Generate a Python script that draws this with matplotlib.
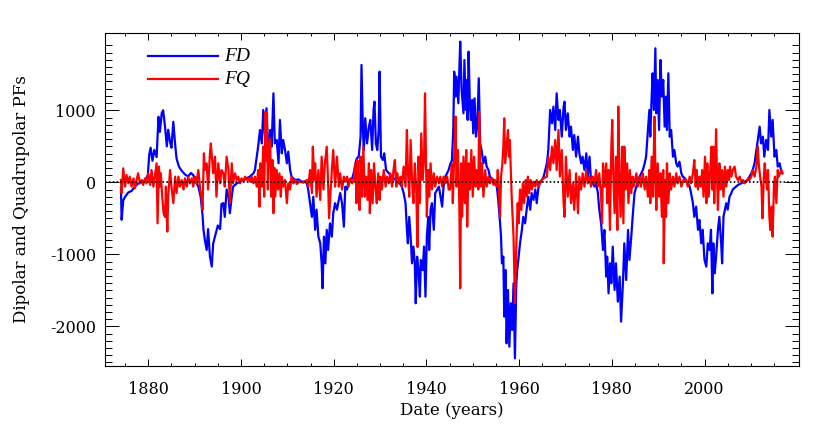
import numpy as np
import matplotlib
matplotlib.use('Agg')
import matplotlib.pyplot as plt
from matplotlib.ticker import FixedLocator

plt.rc('font', family='DejaVu Serif', size=11.5)
plt.rc('axes', unicode_minus=False, linewidth=0.8)

# dipolar polar field (blue)
fd_year = [1874.1, 1874.25, 1874.6, 1875.0, 1875.7, 1876.4, 1877.1, 1877.8, 1878.6, 1879.3,
           1879.9, 1880.2, 1880.5, 1880.9, 1881.3, 1881.8, 1882.2, 1882.5, 1882.9, 1883.2,
           1883.6, 1884.0, 1884.3, 1884.7, 1885.0, 1885.4, 1885.8, 1886.1, 1886.6, 1887.2,
           1887.9, 1888.6, 1889.2, 1889.7, 1890.2, 1890.8, 1891.3, 1891.7, 1891.9, 1892.2,
           1892.6, 1892.9, 1893.3, 1893.7, 1894.0, 1894.4, 1895.0, 1895.5, 1895.8,
           1896.2, 1896.5, 1896.9, 1897.3, 1897.6, 1898.0, 1898.3, 1899.1, 1899.8, 1900.5,
           1901.2, 1901.9, 1902.7, 1903.0, 1903.4, 1903.7, 1904.1, 1904.5, 1904.8, 1905.2,
           1905.5, 1905.9, 1906.3, 1906.6, 1907.0, 1907.3, 1907.7, 1908.1, 1908.4, 1908.8,
           1909.1, 1909.5, 1909.9, 1910.2, 1910.6, 1910.9, 1911.7, 1912.4, 1913.1, 1913.8,
           1914.2, 1914.5, 1914.9, 1915.3, 1915.6, 1916.0, 1916.3, 1916.7, 1917.1, 1917.4,
           1917.6, 1917.9, 1918.2, 1918.5, 1918.8, 1919.2, 1919.6, 1919.9, 1920.3,
           1920.7, 1921.1, 1921.4, 1921.8, 1922.2, 1922.5, 1922.9, 1923.2, 1924.0, 1924.3,
           1924.7, 1925.0, 1925.4, 1925.8, 1926.0, 1926.3, 1926.5, 1926.8, 1927.2, 1927.6,
           1927.9, 1928.3, 1928.6, 1928.8, 1929.1, 1929.4, 1929.7, 1929.9, 1930.2, 1930.6,
           1930.9, 1931.3, 1931.9, 1932.6, 1933.3, 1934.0, 1934.7, 1935.1, 1935.5, 1935.8,
           1936.0, 1936.3, 1936.6, 1936.9, 1937.2, 1937.5, 1937.7, 1938.0, 1938.3, 1938.6,
           1938.8, 1939.2, 1939.5, 1939.8, 1940.1, 1940.4, 1940.6, 1940.9, 1941.2, 1941.6,
           1941.9, 1942.7, 1943.4, 1943.7, 1944.1, 1944.8, 1945.2,
           1945.5, 1945.8, 1946.0, 1946.3, 1946.5, 1946.9, 1947.1, 1947.3, 1947.6, 1948.0,
           1948.2, 1948.5, 1948.7, 1948.9, 1949.1, 1949.4, 1949.6, 1949.9, 1950.1, 1950.4,
           1950.7, 1951.0, 1951.3, 1951.6, 1951.9, 1952.3, 1952.7, 1953.0, 1953.4, 1953.7,
           1954.5, 1955.2, 1955.5, 1955.9, 1956.1, 1956.3, 1956.6, 1956.8, 1957.1, 1957.3,
           1957.6, 1957.9, 1958.2, 1958.5, 1958.8, 1959.1, 1959.4, 1959.6, 1959.9, 1960.2,
           1960.6, 1960.9, 1961.3, 1961.7, 1962.0, 1962.4, 1962.7, 1963.1, 1963.5, 1963.8,
           1964.2, 1964.5, 1965.3, 1966.0, 1966.3, 1966.7, 1967.1, 1967.4, 1967.8, 1968.1,
           1968.5, 1968.8, 1969.2, 1969.6,
           1969.8, 1970.1, 1970.5, 1970.9, 1971.2, 1971.6, 1971.9, 1972.3, 1972.7, 1973.0,
           1973.4, 1973.7, 1974.1, 1974.5, 1974.8, 1975.2, 1975.5, 1975.9, 1976.3, 1976.6,
           1977.0, 1977.3, 1977.7, 1978.1, 1978.4, 1978.8, 1979.0, 1979.3, 1979.6, 1979.9,
           1980.2, 1980.6, 1980.9, 1981.3, 1981.7, 1982.0, 1982.4, 1982.7, 1983.1, 1983.5,
           1983.8, 1984.2, 1984.5, 1984.9, 1985.3, 1985.6, 1986.0, 1986.7, 1987.1, 1987.4,
           1987.8, 1988.1, 1988.3, 1988.6, 1988.8, 1989.1, 1989.4, 1989.6, 1989.9, 1990.2,
           1990.5, 1990.8, 1991.1, 1991.4, 1991.7, 1991.9, 1992.2, 1992.5, 1992.8, 1993.2,
           1993.5, 1993.9, 1994.2, 1994.6, 1995.0, 1995.3, 1995.7,
           1996.0, 1996.4, 1996.8, 1997.1, 1997.5, 1997.8, 1998.2, 1998.6, 1998.9, 1999.3,
           1999.6, 2000.0, 2000.4, 2000.7, 2001.1, 2001.4, 2001.7, 2001.9, 2002.2, 2002.5,
           2002.9, 2003.2, 2003.6, 2003.8, 2004.1, 2004.4, 2004.7, 2005.0, 2005.4, 2005.8,
           2006.1, 2006.8, 2007.2, 2007.9, 2008.6, 2009.4, 2009.7, 2010.1, 2010.4, 2010.8,
           2011.2, 2011.5, 2011.9, 2012.2, 2012.6, 2012.9, 2013.3, 2013.7, 2014.0, 2014.4,
           2014.7, 2015.1, 2015.5, 2015.8, 2016.2, 2016.5, 2016.8]
fd_val = [-80, -520, -250, -200, -140, -120, -60, -20, 0, 20,
          100, 380, 480, 300, 450, 350, 910, 700, 960, 1000,
          780, 500, 730, 560, 480, 840, 520, 330, 220, 160,
          110, 80, 130, 100, 20, -60, -200, -450, -650, -800,
          -940, -650, -1030, -1170, -850, -750, -600, -650, -300,
          -290, -480, -100, -200, -430, -200, -60, -15, 10, 30,
          55, 80, 125, 170, 355, 495, 727, 540, 1005, 634,
          1028, 356, 727, 495, 1236, 540, 588, 264, 866, 403,
          588, 449, 264, 426, 171, 79, 32, 40, 10, 10,
          -15, -100, -290, -480, -200, -660, -380, -755, -847, -1125,
          -1472, -755, -1125, -660, -940, -570, -755, -430, -290,
          -380, -245, -150, -290, -616, -60, -100, 30, 55, 125,
          264, 333, 356, 634, 1630, 727, 449, 889, 540, 773,
          866, 449, 1005, 1120, 540, 449, 727, 1537, 356, 310,
          403, 171, 125, 79, 32, 10, -60, -150, -290, -660,
          -847, -480, -755, -1125, -893, -1125, -1680, -1032, -1218, -1588,
          -1079, -1218, -893, -1588, -755, -480, -940, -380, -290, -660,
          -150, -60, -338, -60, 79, 171, 264,
          300, 727, 1537, 1190, 1468, 1097, 1560, 1954, 1282, 958,
          1699, 1005, 1421, 866, 1815, 1051, 866, 1144, 680, 1167,
          634, 820, 1445, 540, 449, 264, 356, 218, 171, 79,
          32, -60, -245, -570, -755, -1125, -1032, -1866, -1218, -2236,
          -1495, -2283, -1680, -2051, -1403, -2445, -1403, -1218, -1032, -847,
          -660, -480, -570, -338, -200, -380, -150, -245, -100, -290,
          -60, -15, 79, 264, 449, 1005, 820, 1051, 727, 1236,
          866, 1005, 634, 1051,
          1120, 727, 958, 634, 773, 449, 657, 356, 634, 403,
          264, 356, 171, 403, 79, 356, 32, -15, -60, -15,
          -150, -380, -570, -940, -662, -1310, -1032, -1542, -1125, -1403,
          -893, -1495, -1125, -1658, -1310, -1935, -1403, -847, -1357, -662,
          -1079, -755, -480, -150, -60, 32, 79, 171, 264, 356,
          727, 1005, 634, 1190, 1514, 1005, 1861, 958, 1421, 727,
          1699, 1190, 1421, 773, 1190, 727, 1514, 634, 727, 356,
          449, 264, 218, 287, 125, 79, 60,
          32, -15, -60, -150, -290, -480, -338, -660, -523, -847,
          -660, -1079, -1171, -847, -940, -660, -1542, -847, -1264, -1032,
          -660, -480, -847, -1125, -480, -380, -290, -380, -200, -150,
          -100, -60, -37, -15, 10, 32, 79, 125, 171, 264,
          449, 588, 773, 540, 634, 356, 588, 449, 1005, 634,
          866, 356, 449, 218, 264, 171, 125]

# quadrupolar polar field (red)
fq_year = [1874.1, 1874.25, 1874.6, 1875.0, 1875.3, 1875.7, 1876.0, 1876.4, 1876.8, 1877.1,
           1877.5, 1877.8, 1878.2, 1878.6, 1878.9, 1879.3, 1879.6, 1880.0, 1880.4, 1880.7,
           1881.1, 1881.4, 1881.8, 1882.0, 1882.3, 1882.5, 1882.7, 1883.0, 1883.3, 1883.6,
           1883.8, 1884.1, 1884.3, 1884.7, 1885.0, 1885.4, 1885.8, 1886.1, 1886.5, 1886.8,
           1887.2, 1887.6, 1887.9, 1888.3, 1888.6, 1889.0, 1889.4, 1889.7, 1890.1, 1890.4,
           1890.8, 1891.2, 1891.5, 1891.7, 1892.0, 1892.2, 1892.6, 1892.9, 1893.3, 1893.5,
           1894.0, 1894.4, 1894.7, 1895.1, 1895.5, 1895.8,
           1896.2, 1896.5, 1896.9, 1897.3, 1897.6, 1898.0, 1898.3, 1898.7, 1899.1, 1899.4,
           1899.8, 1900.1, 1900.5, 1900.9, 1901.2, 1901.6, 1901.9, 1902.3, 1902.7, 1903.0,
           1903.4, 1903.7, 1904.0, 1904.2, 1904.5, 1904.8, 1905.0, 1905.3, 1905.5, 1905.6,
           1905.8, 1906.0, 1906.3, 1906.5, 1906.8, 1907.0, 1907.2, 1907.4, 1907.7, 1908.0,
           1908.3, 1908.6, 1908.8, 1909.1, 1909.5, 1909.9, 1910.2, 1910.6, 1910.9, 1911.3,
           1911.7, 1912.0, 1912.7, 1913.5, 1914.2, 1914.5, 1914.9, 1915.3, 1915.5, 1915.8,
           1916.0, 1916.3, 1916.7, 1917.1, 1917.4, 1917.8, 1918.1, 1918.5, 1918.8, 1919.0,
           1919.6, 1919.9, 1920.3,
           1920.7, 1921.1, 1921.4, 1921.8, 1922.2, 1922.5, 1922.9, 1923.2, 1923.6, 1924.0,
           1924.3, 1924.7, 1924.9, 1925.1, 1925.4, 1925.6, 1925.8, 1926.1, 1926.4, 1926.7,
           1927.0, 1927.3, 1927.6, 1927.8, 1928.1, 1928.4, 1928.7, 1929.0, 1929.3, 1929.6,
           1929.9, 1930.1, 1930.4, 1930.8, 1931.2, 1931.5, 1931.9, 1932.2, 1932.6, 1932.9,
           1933.2, 1933.5, 1933.7, 1934.0, 1934.4, 1934.7, 1935.1, 1935.5, 1935.8, 1936.0,
           1936.3, 1936.6, 1936.9, 1937.2, 1937.5, 1937.8, 1938.1, 1938.3, 1938.6, 1938.9,
           1939.2, 1939.5, 1939.7, 1940.1, 1940.4, 1940.6, 1940.9, 1941.2, 1941.6, 1941.9,
           1942.3, 1942.7, 1943.0, 1943.4, 1943.7, 1944.1, 1944.5, 1944.8,
           1945.1, 1945.5, 1945.7, 1946.0, 1946.3, 1946.5, 1946.8, 1947.1, 1947.3, 1947.5,
           1947.7, 1948.0, 1948.3, 1948.6, 1948.8, 1949.1, 1949.4, 1949.7, 1950.0, 1950.3,
           1950.6, 1950.9, 1951.2, 1951.4, 1951.7, 1952.0, 1952.3, 1952.7, 1953.0, 1953.4,
           1953.7, 1954.1, 1954.5, 1954.8, 1955.2, 1955.4, 1955.7, 1955.9, 1956.1, 1956.4,
           1956.6, 1956.8, 1957.0, 1957.3, 1957.6, 1957.8, 1958.0, 1958.2, 1958.4, 1958.6,
           1958.8, 1959.1, 1959.3, 1959.5, 1959.7, 1959.9, 1960.2, 1960.5, 1960.8, 1961.1,
           1961.4, 1961.7, 1961.9, 1962.2, 1962.5, 1962.8, 1963.1, 1963.5, 1963.8, 1964.2,
           1964.5, 1965.3, 1966.0, 1966.3, 1966.7, 1967.1, 1967.4, 1967.8, 1968.1, 1968.5,
           1968.8, 1969.2, 1969.6,
           1969.8, 1970.1, 1970.5, 1970.9, 1971.2, 1971.6, 1971.9, 1972.3, 1972.7, 1973.0,
           1973.4, 1973.7, 1974.1, 1974.5, 1974.8, 1975.2, 1975.5, 1975.9, 1976.3, 1976.6,
           1977.0, 1977.3, 1977.7, 1977.9, 1978.1, 1978.4, 1978.8, 1979.0, 1979.3, 1979.6,
           1979.9, 1980.1, 1980.3, 1980.6, 1980.9, 1981.2, 1981.4, 1981.6, 1981.9, 1982.2,
           1982.5, 1982.7, 1983.0, 1983.3, 1983.6, 1983.9, 1984.2, 1984.5, 1984.7, 1985.0,
           1985.3, 1985.6, 1986.0, 1986.3, 1986.7, 1987.1, 1987.4, 1987.8, 1988.1, 1988.3,
           1988.6, 1988.9, 1989.2, 1989.4, 1989.6, 1989.9, 1990.2, 1990.5, 1990.8, 1991.1,
           1991.2, 1991.5, 1991.7, 1991.9, 1992.2, 1992.5, 1992.8, 1993.2, 1993.5, 1993.9,
           1994.2, 1994.6, 1995.0, 1995.5,
           1996.0, 1996.4, 1996.8, 1997.1, 1997.5, 1997.8, 1998.1, 1998.3, 1998.6, 1998.9,
           1999.2, 1999.5, 1999.8, 2000.1, 2000.4, 2000.6, 2000.9, 2001.2, 2001.5, 2001.7,
           2001.9, 2002.1, 2002.3, 2002.5, 2002.7, 2002.9, 2003.2, 2003.5, 2003.8, 2004.1,
           2004.4, 2004.7, 2005.0, 2005.3, 2005.5, 2005.8, 2006.1, 2006.5, 2006.8, 2007.2,
           2007.6, 2007.9, 2008.3, 2008.6, 2009.0, 2009.4, 2009.7, 2010.1, 2010.4, 2010.8,
           2011.2, 2011.5, 2011.7, 2012.0, 2012.3, 2012.5, 2012.8, 2013.0, 2013.3, 2013.5,
           2013.7, 2014.0, 2014.2, 2014.5, 2014.7, 2015.0, 2015.2, 2015.5, 2015.8, 2016.0,
           2016.3, 2016.6, 2016.8]
fq_val = [32, -150, 194, -60, 102, -15, 79, -60, 55, -83,
          32, 125, -15, 32, -37, 55, -15, 125, -37, 171,
          -60, 79, 264, -570, 218, -60, 125, -200, -430, -480,
          -60, -685, -200, 171, -60, -290, 79, -150, 79, -60,
          32, -100, 55, -60, 79, -15, 55, -60, 79, -15,
          171, -100, -200, -380, 403, 171, 264, -100, 403, 540,
          125, 356, -200, 264, -15, 171,
          125, -60, 356, 171, -290, 264, -15, 125, 32, 79,
          -15, 55, 10, 79, 32, 55, 10, 79, -15, 79,
          -60, 171, -338, 264, -60, 495, -200, 980, 300, 950,
          -100, 495, 600, -200, 310, -430, 200, -200, 171, -100,
          125, -200, 79, -60, 32, -290, -15, -100, 79, -15,
          32, -23, 10, -5, 32, -60, 171, -150, 495, 32,
          264, -200, 171, -245, 356, -100, 264, 495, -15, -500,
          171, 449, -60,
          356, -60, 125, -100, 79, 10, 79, -60, 55, -15,
          32, 264, -290, 310, -60, -384, 356, -200, 495, -200,
          79, -245, 264, -430, 171, -290, 264, -60, -290, 125,
          -245, 79, -100, 171, -60, 79, -15, 125, -60, 171,
          310, -60, 125, -15, 79, -60, 218, -60, 727, 171,
          -200, 588, 32, -290, 264, -100, -900, 356, -290, 680,
          32, 356, 1236, -480, 171, -200, 264, -100, 125, -60,
          79, -15, 79, -60, 79, -15, 79, -100,
          -100, 264, -290, 356, 912, -60, 449, -290, -1472, 264,
          -480, 356, -290, 449, -616, 264, -100, 449, -200, 356,
          -60, 171, -100, 982, -60, 264, -200, 171, -60, 79,
          -15, 55, -37, 32, -60, 171, -200, -480, 79, 264,
          495, 889, 264, 495, 727, 356, 588, 171, -200, -480,
          -755, -1680, -1125, -662, -290, -570, -100, -384, -15, -290,
          32, -200, 79, -150, 32, -100, 10, -60, 32, -60,
          10, 55, 79, 356, 171, 495, 264, 588, 171, 727,
          79, 449, -290,
          -480, 356, -200, 171, -290, -15, -384, 125, -430, 79,
          -100, 125, -60, 171, -15, 79, -60, 79, -15, 171,
          -60, 125, -200, -570, 264, -60, 264, -290, 171, -662,
          495, 866, 171, -430, 356, -662, 1051, 125, -480, 495,
          -570, 495, -100, 264, -290, 171, -150, 79, -60, 32,
          125, -60, 79, -60, 125, -100, 79, -200, 171, -290,
          356, -200, 912, 171, -384, 264, -200, 125, -480, 171,
          -1125, 32, -480, 264, -290, 125, -100, 79, -60, 125,
          -15, 79, -60, 40,
          32, -60, 79, -15, 125, 310, -60, 171, -100, 79,
          -60, 171, -200, 356, -290, 264, -200, 125, 495, -100,
          495, -290, 171, 736, 79, -384, 264, -100, 171, -200,
          218, -60, 171, 32, 218, 79, 171, 218, 79, 32,
          79, 10, 32, -15, 10, 55, 32, 79, 171, 79,
          218, 495, 264, 79, -60, -500, 79, 264, 32, -100,
          171, -480, -662, -338, -755, -15, 79, -290, 171, 79,
          125, 171, 125]

x_major = [1880, 1900, 1920, 1940, 1960, 1980, 2000]
x_minor = list(range(1875, 2020, 5))
y_major = [-2000, -1000, 0, 1000]
y_minor = list(range(-2500, 2000, 100))

fig = plt.figure(figsize=(8.3, 4.34), dpi=100)
ax = fig.add_axes([0.1265, 0.1567, 0.8365, 0.768])

ax.plot(fd_year, fd_val, color='blue', lw=1.6)
ax.plot(fq_year, fq_val, color='red', lw=1.6)
ax.axhline(0, color='k', lw=1.2, ls=(0, (1, 1.3)), zorder=5)

ax.set_xlim(1870.66, 2020.45)
ax.set_ylim(-2551, 2078)
ax.xaxis.set_major_locator(FixedLocator(x_major))
ax.xaxis.set_minor_locator(FixedLocator(x_minor))
ax.yaxis.set_major_locator(FixedLocator(y_major))
ax.yaxis.set_minor_locator(FixedLocator(y_minor))
ax.tick_params(which='both', direction='in', top=True, right=True, width=0.7)
ax.tick_params(axis='x', which='major', length=5, pad=11)
ax.tick_params(axis='x', which='minor', length=2.5)
ax.tick_params(axis='y', which='major', length=10, pad=6.5)
ax.tick_params(axis='y', which='minor', length=5)

ax.set_xlabel('Date (years)', fontsize=12, labelpad=3)
ax.set_ylabel('Dipolar and Quadrupolar PFs', fontsize=12)
ax.yaxis.set_label_coords(-0.108, 0.5)

# legend drawn by hand like the original
ax.plot([0.0624, 0.1623], [0.9286, 0.9286], color='blue', lw=1.6, transform=ax.transAxes)
ax.plot([0.0624, 0.1623], [0.861, 0.861], color='red', lw=1.6, transform=ax.transAxes)
ax.text(0.1714, 0.9286, 'FD', transform=ax.transAxes, va='center',
        family='Liberation Serif', style='italic', fontsize=14)
ax.text(0.1714, 0.861, 'FQ', transform=ax.transAxes, va='center',
        family='Liberation Serif', style='italic', fontsize=14)

fig.savefig('out.png', dpi=100)
